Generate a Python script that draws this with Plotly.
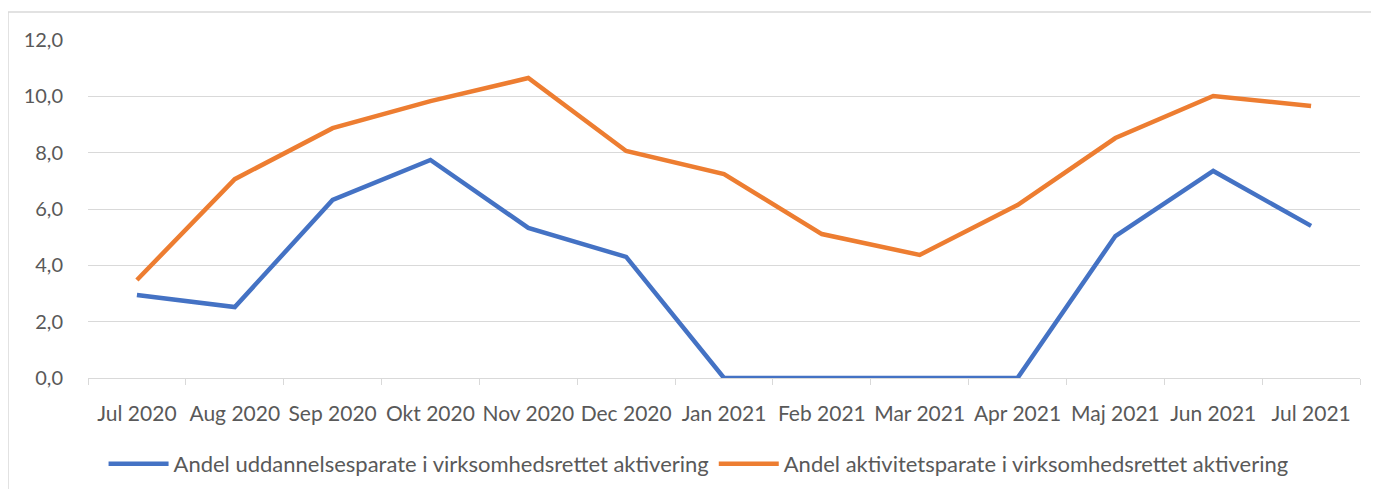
import plotly.graph_objects as go

months = ["Jul 2020", "Aug 2020", "Sep 2020", "Okt 2020", "Nov 2020", "Dec 2020",
          "Jan 2021", "Feb 2021", "Mar 2021", "Apr 2021", "Maj 2021", "Jun 2021", "Jul 2021"]
uddannelse = [2.95, 2.52, 6.32, 7.74, 5.33, 4.30, 0.0, 0.0, 0.0, 0.0, 5.04, 7.35, 5.40]
aktivitet = [3.48, 7.06, 8.87, 9.83, 10.65, 8.06, 7.24, 5.11, 4.37, 6.14, 8.52, 10.01, 9.66]
name_u = "Andel uddannelsesparate i virksomhedsrettet aktivering"
name_a = "Andel aktivitetsparate i virksomhedsrettet aktivering"

font = "Lato, Open Sans, sans-serif"
grey = "#d9d9d9"
txt = "#595959"

fig = go.Figure()
fig.add_trace(go.Scatter(x=months, y=uddannelse, name=name_u, mode="lines",
                         line=dict(color="#4472C4", width=4.5)))
fig.add_trace(go.Scatter(x=months, y=aktivitet, name=name_a, mode="lines",
                         line=dict(color="#ED7D31", width=4.5)))

fig.update_layout(
    width=1371, height=489,
    margin=dict(l=80, r=19, t=32, b=119),
    plot_bgcolor="white", paper_bgcolor="white",
    separators=",.",
    font=dict(family=font, size=20, color=txt),
    showlegend=True,
    legend=dict(orientation="h", x=0.48, xanchor="center", y=-0.254, yanchor="middle",
                font=dict(size=22, color=txt), itemwidth=60, tracegroupgap=0),
    xaxis=dict(type="category", tickson="boundaries", ticks="outside", ticklen=6,
               tickcolor=grey, showline=True, linecolor=grey, linewidth=1,
               showgrid=False, ticklabelstandoff=17, range=[-0.5, 12.5],
               tickangle=0, automargin=False, tickfont=dict(size=21)),
    yaxis=dict(range=[0, 12], dtick=2, tickformat=".1f", showgrid=True, gridcolor=grey,
               gridwidth=1, zeroline=False, showline=False, ticklabelstandoff=24,
               automargin=False, tickfont=dict(size=20)),
    shapes=[dict(type="rect", xref="paper", yref="paper",
                 x0=(8 - 88) / 1272, x1=1.2, y0=-0.6, y1=(378 - 12) / 338,
                 line=dict(color=grey, width=1.5), fillcolor="rgba(0,0,0,0)", layer="below")],
)

fig.write_html("out.html")
